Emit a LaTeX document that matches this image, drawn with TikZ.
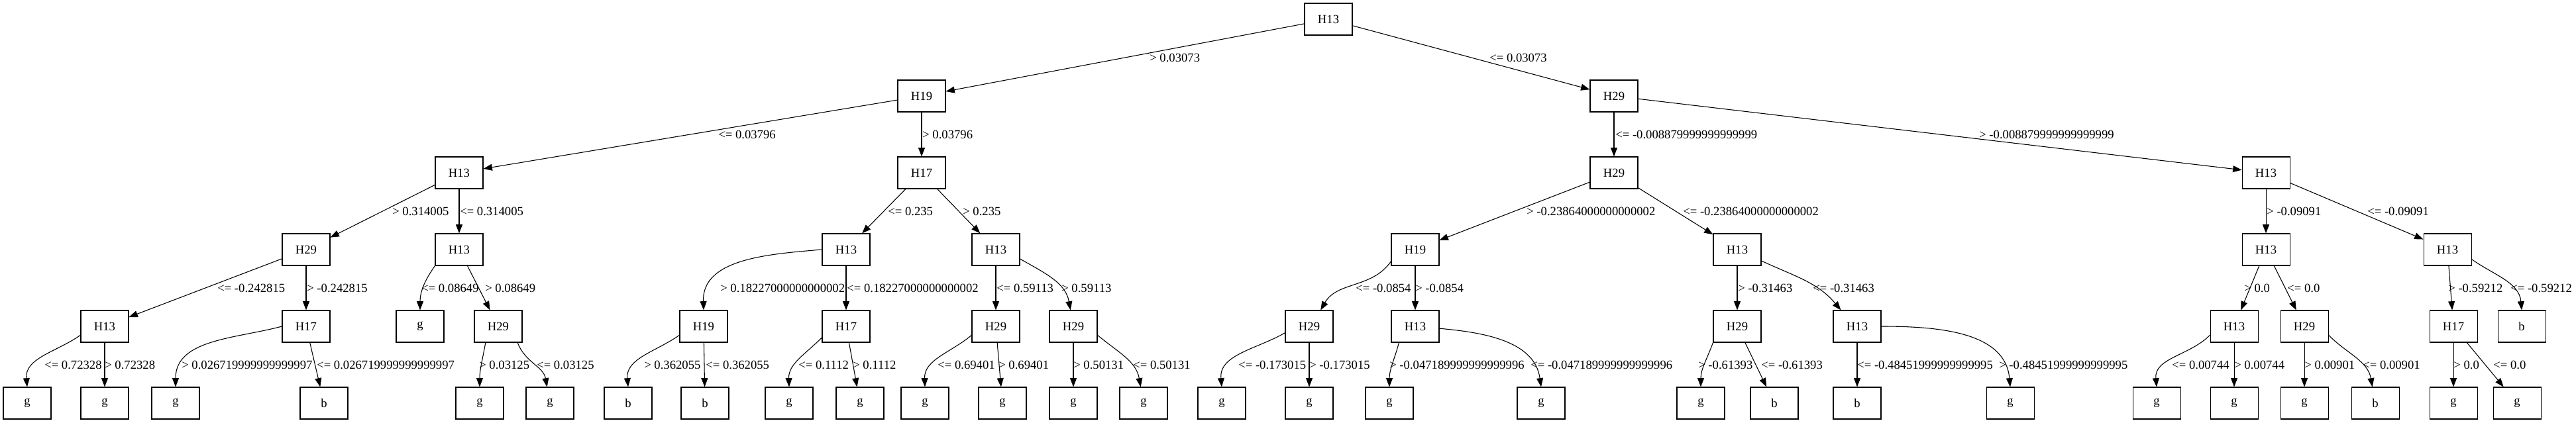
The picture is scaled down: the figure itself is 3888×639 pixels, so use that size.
\documentclass[tikz,border=0pt]{standalone}
\usepackage{fontspec}
\setmainfont{Liberation Serif}
\usetikzlibrary{arrows.meta}
\begin{document}
\begin{tikzpicture}[x=0.75pt,y=0.75pt,
  box/.style={draw,line width=0.8pt,minimum width=54pt,minimum height=36pt,inner sep=0pt,font=\fontsize{14pt}{16pt}\selectfont},
  e/.style={line width=0.8pt,-{Triangle[length=10pt,width=7.5pt]}},
  lab/.style={anchor=west,inner sep=0pt,font=\fontsize{14pt}{16pt}\selectfont}]
\useasboundingbox (0,0) rectangle (3888,639);
% level 0-2
\node[box] (r) at (2005,610) {H13};
\node[box] (a) at (1391,494) {H19};
\node[box] (b) at (2436,494) {H29};
\node[box] (aa) at (693,378) {H13};
\node[box] (ab) at (1391,378) {H17};
\node[box] (ba) at (2436,378) {H29};
\node[box] (bb) at (3420,378) {H13};
% level 3
\node[box] (aaa) at (462,262) {H29};
\node[box] (aab) at (693,262) {H13};
\node[box] (aba) at (1277,262) {H13};
\node[box] (abb) at (1503,262) {H13};
\node[box] (baa) at (2136,262) {H19};
\node[box] (bab) at (2622,262) {H13};
\node[box] (bba) at (3420,262) {H13};
\node[box] (bbb) at (3694,262) {H13};
% level 4
\node[box] (aaaa) at (158,146) {H13};
\node[box] (aaab) at (462,146) {H17};
\node[box] (aaba) at (634,146) {g};
\node[box] (aabb) at (752,146) {H29};
\node[box] (abaa) at (1062,146) {H19};
\node[box] (abab) at (1277,146) {H17};
\node[box] (abba) at (1503,146) {H29};
\node[box] (abbb) at (1620,146) {H29};
\node[box] (baaa) at (1976,146) {H29};
\node[box] (baab) at (2136,146) {H13};
\node[box] (baba) at (2622,146) {H29};
\node[box] (babb) at (2803,146) {H13};
\node[box] (bbaa) at (3372,146) {H13};
\node[box] (bbab) at (3478,146) {H29};
\node[box] (bbba) at (3703,146) {H17};
\node[box] (bbbb) at (3806,146) {b};
% level 5
\node[box] (aaaa1) at (41,30) {g};
\node[box] (aaaa2) at (158,30) {g};
\node[box] (aaab1) at (265,30) {g};
\node[box] (aaab2) at (489,30) {b};
\node[box] (aabb1) at (724,30) {g};
\node[box] (aabb2) at (830,30) {g};
\node[box] (abaa1) at (948,30) {b};
\node[box] (abaa2) at (1064,30) {b};
\node[box] (abab1) at (1191,30) {g};
\node[box] (abab2) at (1298,30) {g};
\node[box] (abba1) at (1396,30) {g};
\node[box] (abba2) at (1513,30) {g};
\node[box] (abbb1) at (1620,30) {g};
\node[box] (abbb2) at (1726,30) {g};
\node[box] (baaa1) at (1844,30) {g};
\node[box] (baaa2) at (1976,30) {g};
\node[box] (baab1) at (2097,30) {g};
\node[box] (baab2) at (2326,30) {g};
\node[box] (baba1) at (2567,30) {g};
\node[box] (baba2) at (2678,30) {b};
\node[box] (babb1) at (2803,30) {b};
\node[box] (babb2) at (3034,30) {g};
\node[box] (bbaa1) at (3255,30) {g};
\node[box] (bbaa2) at (3372,30) {g};
\node[box] (bbab1) at (3478,30) {g};
\node[box] (bbab2) at (3585,30) {b};
\node[box] (bbba1) at (3703,30) {g};
\node[box] (bbba2) at (3799,30) {g};
% edges level 0-1
\draw[e] (r) -- (a);
\draw[e] (r) -- (b);
\node[lab] (l01) at (1735,552) {> 0.03073};
\node[lab] (l02) at (2248,552) {<= 0.03073};
% level 1-2
\draw[e] (a) -- (aa);
\draw[e] (a) -- (ab);
\draw[e] (b) -- (ba);
\draw[e] (b) -- (bb);
\node[lab] (l11) at (1084,436) {<= 0.03796};
\node[lab] (l12) at (1392,436) {> 0.03796};
\node[lab] (l13) at (2438,436) {<= -0.008879999999999999};
\node[lab] (l14) at (2987,436) {> -0.008879999999999999};
% level 2-3
\draw[e] (aa) -- (aaa);
\draw[e] (aa) -- (aab);
\draw[e] (ab) -- (aba);
\draw[e] (ab) -- (abb);
\draw[e] (ba) -- (baa);
\draw[e] (ba) -- (bab);
\draw[e] (bb) -- (bba);
\draw[e] (bb) -- (bbb);
\node[lab] (l21) at (592,320) {> 0.314005};
\node[lab] (l22) at (694,320) {<= 0.314005};
\node[lab] (l23) at (1340,320) {<= 0.235};
\node[lab] (l24) at (1453,320) {> 0.235};
\node[lab] (l25) at (2304,320) {> -0.23864000000000002};
\node[lab] (l26) at (2540,320) {<= -0.23864000000000002};
\node[lab] (l27) at (3421,320) {> -0.09091};
\node[lab] (l28) at (3573,320) {<= -0.09091};
% level 3-4
\draw[e] (aaa) -- (aaaa);
\draw[e] (aaa) -- (aaab);
\draw[e] (aab.south west) to[out=235,in=90] (aaba.north);
\draw[e] (aab) -- (aabb);
\draw[e] (aba.west) to[out=185,in=92] (abaa.north);
\draw[e] (aba) -- (abab);
\draw[e] (abb) -- (abba);
\draw[e] (abb.-21) to[out=-30,in=100] (abbb.100);
\draw[e] (baa.206) to[out=235,in=60] (baaa.55);
\draw[e] (baa) -- (baab);
\draw[e] (bab) -- (baba);
\draw[e] (bab.-25) to[out=-25,in=130] (babb.135);
\draw[e] (bba) -- (bbaa);
\draw[e] (bba) -- (bbab);
\draw[e] (bbb) -- (bbba);
\draw[e] (bbb.-22) to[out=-35,in=95] (bbbb.north);
\node[lab] (l31) at (328,204) {<= -0.242815};
\node[lab] (l32) at (463,204) {> -0.242815};
\node[lab] (l33) at (636,204) {<= 0.08649};
\node[lab] (l34) at (732,204) {> 0.08649};
\node[lab] (l35) at (1087,204) {> 0.18227000000000002};
\node[lab] (l36) at (1278,204) {<= 0.18227000000000002};
\node[lab] (l37) at (1504,204) {<= 0.59113};
\node[lab] (l38) at (1602,204) {> 0.59113};
\node[lab] (l39) at (2046,204) {<= -0.0854};
\node[lab] (l3a) at (2136,204) {> -0.0854};
\node[lab] (l3b) at (2623,204) {> -0.31463};
\node[lab] (l3c) at (2736,204) {<= -0.31463};
\node[lab] (l3d) at (3387,204) {> 0.0};
\node[lab] (l3e) at (3452,204) {<= 0.0};
\node[lab] (l3f) at (3695,204) {> -0.59212};
\node[lab] (l3g) at (3789,204) {<= -0.59212};
% level 4-5
\draw[e] (aaaa.200) to[out=215,in=95] (aaaa1.north);
\draw[e] (aaaa) -- (aaaa2);
\draw[e] (aaab.west) to[out=195,in=90] (aaab1.north);
\draw[e] (aaab) -- (aaab2);
\draw[e] (aabb.232) to[out=260,in=90] (aabb1.north);
\draw[e] (aabb.-40) to[out=-70,in=100] (aabb2.100);
\draw[e] (abaa.200) to[out=215,in=95] (abaa1.north);
\draw[e] (abaa) -- (abaa2);
\draw[e] (abab.205) to[out=225,in=92] (abab1.north);
\draw[e] (abab) -- (abab2);
\draw[e] (abba.200) to[out=220,in=92] (abba1.north);
\draw[e] (abba) -- (abba2);
\draw[e] (abbb) -- (abbb1);
\draw[e] (abbb.-20) to[out=-40,in=100] (abbb2.100);
\draw[e] (baaa.195) to[out=210,in=95] (baaa1.north);
\draw[e] (baaa) -- (baaa2);
\draw[e] (baab.225) to[out=255,in=90] (baab1.north);
\draw[e] (baab.-5) to[out=-5,in=98] (baab2.north);
\draw[e] (baba.south west) to[out=250,in=90] (baba1.north);
\draw[e] (baba) -- (baba2);
\draw[e] (babb) -- (babb1);
\draw[e] (babb.east) to[out=0,in=95] (babb2.north);
\draw[e] (bbaa.200) to[out=225,in=95] (bbaa1.north);
\draw[e] (bbaa) -- (bbaa2);
\draw[e] (bbab) -- (bbab1);
\draw[e] (bbab.-20) to[out=-45,in=100] (bbab2.100);
\draw[e] (bbba) -- (bbba1);
\draw[e] (bbba) -- (bbba2);
\node[lab] (l41) at (67,88) {<= 0.72328};
\node[lab] (l42) at (158,88) {> 0.72328};
\node[lab] (l43) at (274,88) {> 0.026719999999999997};
\node[lab] (l44) at (478,88) {<= 0.026719999999999997};
\node[lab] (l45) at (723,88) {> 0.03125};
\node[lab] (l46) at (810,88) {<= 0.03125};
\node[lab] (l47) at (972,88) {> 0.362055};
\node[lab] (l48) at (1065,88) {<= 0.362055};
\node[lab] (l49) at (1205,88) {<= 0.1112};
\node[lab] (l4a) at (1287,88) {> 0.1112};
\node[lab] (l4b) at (1415,88) {<= 0.69401};
\node[lab] (l4c) at (1507,88) {> 0.69401};
\node[lab] (l4d) at (1620,88) {> 0.50131};
\node[lab] (l4e) at (1710,88) {<= 0.50131};
\node[lab] (l4f) at (1869,88) {<= -0.173015};
\node[lab] (l4g) at (1976,88) {> -0.173015};
\node[lab] (l4h) at (2097,88) {> -0.047189999999999996};
\node[lab] (l4i) at (2310,88) {<= -0.047189999999999996};
\node[lab] (l4j) at (2563,88) {> -0.61393};
\node[lab] (l4k) at (2658,88) {<= -0.61393};
\node[lab] (l4l) at (2803,88) {<= -0.48451999999999995};
\node[lab] (l4m) at (3017,88) {> -0.48451999999999995};
\node[lab] (l4n) at (3278,88) {<= 0.00744};
\node[lab] (l4o) at (3372,88) {> 0.00744};
\node[lab] (l4p) at (3478,88) {> 0.00901};
\node[lab] (l4q) at (3566,88) {<= 0.00901};
\node[lab] (l4r) at (3703,88) {> 0.0};
\node[lab] (l4s) at (3763,88) {<= 0.0};
\end{tikzpicture}
\end{document}
